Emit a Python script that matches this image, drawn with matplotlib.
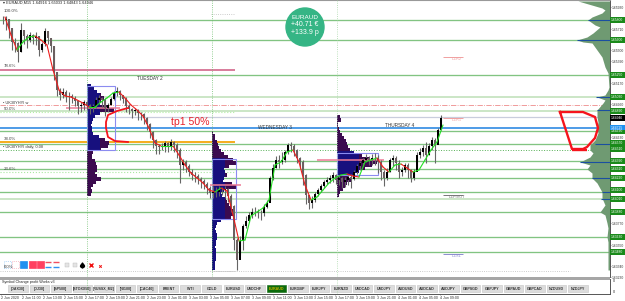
import matplotlib
matplotlib.use('Agg')
import matplotlib.pyplot as plt
from matplotlib.patches import Circle, Rectangle
import numpy as np

plt.rcParams['font.family'] = ['Liberation Sans', 'DejaVu Sans']

# prices are kept in points above 1.6000 (1 point = 0.0001)
PRICE_BASE = 1.6
BAR_STEP = 3  # chart units per 15 minute bar

closes = [580,581,572,558,557,548,570,564,560,565,
          562,564,550,556,569,562,554,528,510,505,
          508,504,504,502,499,494,495,498,495,492,
          494,500,502,500,492,495,501,507,509,505,
          501,494,491,489,490,487,486,482,476,468,
          460,454,453,454,457,454,458,455,450,435,
          438,434,428,425,424,421,419,416,412,407,
          408,408,410,410,411,404,394,360,340,359,
          374,379,385,388,388,387,387,393,397,422,
          432,440,438,440,448,455,454,450,442,438,
          425,405,397,400,406,410,414,418,420,422,
          425,420,422,418,420,423,421,428,434,437,
          440,442,440,442,442,438,428,422,428,440,
          442,437,428,430,435,430,422,428,445,448,
          452,445,454,460,455,470,482]
highs = [584,584,581,572,562,558,577,570,566,568,
         566,568,564,558,572,569,562,554,528,512,
         512,510,508,506,504,500,498,500,499,496,
         496,503,505,503,502,497,503,509,513,510,
         505,503,496,492,492,491,488,487,483,477,
         469,461,456,457,459,458,461,459,457,452,
         441,440,436,431,428,426,423,421,418,414,
         414,413,414,413,414,412,406,395,362,364,
         376,384,388,392,393,391,390,396,400,424,
         436,444,445,448,450,457,458,456,451,443,
         440,426,405,404,408,412,416,420,423,425,
         428,426,425,423,423,425,426,430,436,439,
         442,446,444,446,447,445,440,430,432,442,
         445,444,440,433,437,437,431,431,448,452,
         455,458,457,463,462,472,485]
lows = [576,570,562,550,548,538,548,556,552,558,
        556,555,544,548,554,556,548,520,504,500,
        502,498,490,497,494,486,488,490,490,486,
        488,492,496,493,484,488,495,500,504,500,
        497,488,486,482,485,480,480,476,470,462,
        452,446,446,450,448,448,450,448,442,417,
        430,428,424,420,418,416,412,411,406,402,
        402,403,404,405,402,398,388,350,330,345,
        350,372,378,382,384,382,380,384,392,400,
        420,432,432,436,438,446,448,444,437,432,
        415,396,391,392,398,404,408,412,416,417,
        418,416,415,412,413,415,412,420,426,430,
        434,438,435,435,435,427,420,414,420,428,
        434,430,422,424,428,422,418,420,430,442,
        444,437,445,450,437,462,470]

# moving average, one value every second bar
ma_values = [583,565,550,558,563,564,560,555,530,510,
             504,503,500,497,493,493,498,502,507,508,
             502,495,490,484,472,457,454,454,454,445,
             435,427,422,417,410,408,412,409,385,359,
             360,384,388,392,400,435,438,448,450,438,
             415,400,403,410,417,422,425,426,424,423,
             438,440,442,433,428,435,436,432,428,430,
             440,450,458,475]

green_levels = [580,560,525,469,456,439,431,422,408,388,363,348]
pale_levels = [503,489,401]

# daily volume profiles: widths from the top row down, one row every 3 points
profile_starts = [87, 212, 337]
profile_tops = [514, 467, 483]
profile_boxes = [(87,115,514,450), (212,236,441,381), (337,378,447,425)]
profile_pocs = [(66,120,492), (210,241,415), (317,384,440)]
profile_navy_limits = [13, 13, 22]
profile_1 = [4,7,10,14,17,14,13,22,27,13,8,6,5,4,5,5,6,12,18,22,21,14,6,5,5,8,9,10,10,8,10,14,9,6,4,5,4]
profile_2 = [1,3,3,5,6,7,9,12,16,21,24,17,12,13,15,12,11,20,25,12,9,10,14,15,17,20,22,23,19,9,5,4,3,
             4,5,5,4,4,3,4,4,4,4,3,3,3]
profile_3 = [3,4,1,1,2,3,5,7,9,10,11,13,17,25,32,40,35,28,22,16,12,15,10,8,6,3,2]

# market profile along the right edge
hist_levels = [599,592,590,587,583,580,575,573,567,563,560,558,557,550,543,533,527,513,510,505,503,
               500,497,490,483,478,472,467,460,455,450,447,443,438,435,431,427,422,417,408,402,395,388,
               385,377,372,363,358,347,330]
hist_widths = [32,8,5,8,18,22,15,10,17,23,33,27,18,13,8,5,2,1,2,5,13,5,7,13,13,12,13,12,15,20,20,
               17,20,30,20,23,18,18,13,8,8,5,10,5,3,2,3,2,2,2]
hist_peaks = [(580,22),(560,33),(503,14),(490,13),(456,15),(438,30),(422,18),(408,8),(401,9)]

tick_points = [593,582,571,560,550,539,528,517,506,496,485,474,463,452,442,431,420,409,398,388,
               377,366,355,344,334,323]
tag_levels = [580,560,525,503,489,469,457,451,439,431,422,410,401,388,363,348]
last_price = 1.64946
last_price_point = 482.2
blue_level = 472.5

tab_names = ['[DAX30]','[DJ30]','[SP500]','[STOXX50]','[RUSSX_M2]','[NI100]','[CAC40]','BRENT','WTI','GOLD',
             'EURUSD','USDCHF','EURAUD','EURGBP','EURJPY','EURNZD','USDCAD','USDJPY','AUDUSD','AUDCAD',
             'AUDJPY','GBPSGD','GBPJPY','GBPAUD','GBPCAD','NZDUSD','NZDJPY']
time_labels = ['2 Jun 2020','2 Jun 11:00','2 Jun 13:00','2 Jun 15:00','2 Jun 17:00','2 Jun 19:00','2 Jun 21:00',
               '2 Jun 23:00','3 Jun 01:00','3 Jun 03:00','3 Jun 05:00','3 Jun 07:00','3 Jun 09:00','3 Jun 11:00',
               '3 Jun 13:00','3 Jun 15:00','3 Jun 17:00','3 Jun 19:00','3 Jun 21:00','4 Jun 01:00','4 Jun 05:00',
               '4 Jun 09:00']

fib_labels = ['100.0%','78.6%','50.0%','38.0%','23.6%','0.0%']
fib_points = [589,534,491,461,431,333]

# hand drawn marks on the chart
swoosh_x = [128,117,108,106,106,108,115,128]
swoosh_y = [492,489,485,478,472,463,459,458]
shape_x = [560,583,595,598,595,587,583,572,560]
shape_y = [488,488,483,472,462,453,451,451,488]

W, H = 625, 301
MAIN_RIGHT, MAIN_BOTTOM = 610, 277
PROFILE_NAVY = '#17107e'
PROFILE_PURPLE = '#3b0b4f'

fig = plt.figure(figsize=(W / 100, H / 100), dpi=100, facecolor='white')
ax = fig.add_axes([0, 1 - MAIN_BOTTOM / H, MAIN_RIGHT / W, MAIN_BOTTOM / H])
ax.set_xlim(0, MAIN_RIGHT)
ax.set_ylim(600 - MAIN_BOTTOM, 600)
for s in ['left', 'bottom']:
    ax.spines[s].set_visible(False)
ax.spines['top'].set_color('#999999')
ax.spines['right'].set_color('#555555')
ax.spines['right'].set_linewidth(0.7)
ax.set_xticks([])

# axis ticks that a price tag would cover are left out
covered = tag_levels + [last_price_point, blue_level]
shown_ticks = [p for p in tick_points if min(abs(p - c) for c in covered) > 5]
ax.yaxis.tick_right()
ax.set_yticks(shown_ticks)
ax.set_yticklabels([f'{PRICE_BASE + p / 10000:.5f}' for p in shown_ticks], fontsize=2.4, color='#333333')
ax.tick_params(axis='y', length=1, width=0.4, pad=0.3, color='#555555')

# levels
for lv in green_levels:
    ax.axhline(lv, color='#82c482', lw=0.95, zorder=1)
for lv in pale_levels:
    ax.axhline(lv, color='#cbe6c6', lw=1.4, zorder=1)
ax.axhline(483, color='#c9cddd', lw=0.9, zorder=1)
ax.axhline(blue_level, color='#1c80e0', lw=1.1, zorder=1)
ax.axhline(495, color='#ee8a8a', lw=0.6, ls='-.', zorder=1)
ax.axhline(450, color='#55b055', lw=0.7, ls=':', zorder=1)
ax.hlines(530.5, 0, 235, color='#d2668a', lw=1.2, zorder=1)
ax.hlines(458, 0, 235, color='#f5a60c', lw=1.3, zorder=1)
ax.hlines(488, 0, 235, color='#b4efa4', lw=0.8, ls=':', zorder=1)
ax.hlines(428, 0, 236, color='#a8e8a0', lw=0.8, ls=':', zorder=1)
ax.hlines(586, 211, 235, color='#bbbbbb', lw=0.6, ls=':', zorder=1)
ax.hlines(329.5, 0, 570, color='#bbbbbb', lw=0.6, ls=':', zorder=1)

# volume profiles
for n, (start, top, box, poc, limit, widths) in enumerate(zip(profile_starts, profile_tops, profile_boxes, profile_pocs,
                                                              profile_navy_limits, [profile_1, profile_2, profile_3])):
    rows = top - 3 * np.arange(len(widths))
    widths = np.array(widths)
    ax.barh(rows, widths, left=start, height=3.05, color=PROFILE_PURPLE, zorder=2)
    inside = (rows <= box[2]) & (rows >= box[3])
    navy = np.where(inside, np.minimum(widths, limit), 0)
    if n == 1:
        # the tail of the middle profile stays blue
        navy = np.where(rows < box[3], widths, navy)
    ax.barh(rows, navy, left=start, height=3.05, color=PROFILE_NAVY, zorder=2)
    ax.add_patch(Rectangle((box[0], box[3]), box[1] - box[0], box[2] - box[3], fill=False,
                           ec='#8c8cf0', lw=0.8, zorder=3))
    ax.hlines(poc[2], poc[0], poc[1], color='#ee7a96', lw=1.1, zorder=3)
ax.hlines(329.5, 212, 236, color='#999999', lw=0.5, ls=':', zorder=3)

for x, col in [(87, '#6fbf6f'), (212, '#6fbf6f'), (337, '#a8d8a8')]:
    ax.axvline(x, color=col, lw=0.6, ls=':', zorder=3)

# candles
bar_x = BAR_STEP * (np.arange(len(closes)) + 1)
close_arr = np.array(closes)
open_arr = np.r_[closes[0], close_arr[:-1]]
up = close_arr >= open_arr
ax.vlines(bar_x, lows, highs, color='#666666', lw=0.8, zorder=4)
ax.bar(bar_x[up], (close_arr - open_arr)[up] + 0.5, bottom=open_arr[up], width=2.0, color='black', zorder=5)
ax.bar(bar_x[~up], (open_arr - close_arr)[~up] + 0.5, bottom=close_arr[~up], width=2.0, color='#6b6060', zorder=5)

# moving average, green on the way up and red on the way down
ma_x = 5 + 2 * BAR_STEP * np.arange(len(ma_values))
for i in range(len(ma_values) - 1):
    col = '#22e022' if ma_values[i + 1] >= ma_values[i] else '#ee1c1c'
    ax.plot(ma_x[i:i + 2], ma_values[i:i + 2], color=col, lw=0.8, zorder=6, solid_capstyle='round')

ax.plot(swoosh_x, swoosh_y, color='#f5141c', lw=1.3, zorder=7)
ax.plot(shape_x, shape_y, color='#f5141c', lw=1.7, zorder=7, solid_joinstyle='round')
ax.hlines(450.5, 572, 587, color='#f5141c', lw=1.7, zorder=7)

# market profile on the right edge
hist_x = MAIN_RIGHT - np.array(hist_widths)
ax.fill_betweenx(hist_levels, hist_x, MAIN_RIGHT, color='#6f9a72', lw=0, zorder=2)
for lv, w in hist_peaks:
    ax.hlines(lv, MAIN_RIGHT - w, MAIN_RIGHT, color='#1a4fa0', lw=0.8, zorder=3)

# pivots
for lv, label, col in [(543, 'D1R2', '#f0a0a0'), (482, 'D1R1', '#f0a0a0'), (405, 'D1PIVOT', '#777777'), (346, 'D1S1', '#8c8cd0')]:
    ax.hlines(lv, 443, 463, color=col, lw=0.7, zorder=3)
    ax.text(452 if label != 'D1PIVOT' else 449, lv - 2, label, fontsize=2.8, color=col, va='center', zorder=3)

# day names and fib labels
for x, y, label in [(150, 522, 'TUESDAY 2'), (275, 473, 'WEDNESDAY 3'), (400, 474.5, 'THURSDAY 4')]:
    ax.text(x, y, label, fontsize=3.4, color='#333333', ha='center', va='center', zorder=8)
for label, p in zip(fib_labels, fib_points):
    ax.text(4, p, label, fontsize=3.2, color='#444444', va='center', zorder=8)
ax.text(3, 597, '\u25be EURAUD,M15 1.64916 1.65033 1.64843 1.64946', fontsize=2.8, color='#222222', va='center', zorder=8)
ax.text(3, 497, '\u2022 UK30YHYI w', fontsize=2.8, color='#333333', va='center', zorder=8)
ax.text(3, 453, '\u2022 UK30YHYI daily, 0.08', fontsize=2.8, color='#333333', va='center', zorder=8)

ax.text(171, 478, 'tp1 50%', fontsize=7.6, color='#e8202a', va='center', zorder=8)

# profit badge
ax.add_patch(Circle((305, 573), 19, color='#35b585', zorder=9))
ax.text(305, 583, 'EURAUD', fontsize=4.6, color='white', ha='center', va='center', zorder=10)
ax.text(305, 575.5, '+40.71 \u20ac', fontsize=5.0, color='white', ha='center', va='center', zorder=10)
ax.text(305, 567.5, '+133.9 p', fontsize=5.0, color='white', ha='center', va='center', zorder=10)

# toolbar at the lower left
for x0, fc, ec, ls in [(4, 'white', '#7ab8f0', ':'), (12, 'white', '#f08ca0', ':'),
                       (20, '#2090f0', '#2090f0', '-'), (29, '#ff4060', '#ff4060', '-'), (37, '#ff4060', '#ff4060', '-')]:
    ax.add_patch(Rectangle((x0, 332), 6.5, 7, fc=fc, ec=ec, lw=0.5, ls=ls, zorder=8))
for x0 in [45, 53]:
    ax.hlines(338, x0, x0 + 6, color='#f05060', lw=1.0, zorder=8)
    ax.hlines(333.5, x0, x0 + 6, color='#3090f0', lw=1.0, zorder=8)
ax.text(4, 333, '0.0%', fontsize=3.0, color='#333333', va='center', zorder=9)
for x0 in [65, 73]:
    ax.add_patch(Rectangle((x0, 333), 4, 4, fc='#e4e4e4', ec='#bbbbbb', lw=0.3, zorder=8))
ax.plot([82], [335], marker='$\u2660$', ms=3.5, color='black', zorder=8)
ax.plot([90.5], [335], marker='x', ms=3.5, mew=1.0, color='#f01010', zorder=8)
ax.plot([100], [334], marker='x', ms=1.8, mew=0.7, color='#f01010', zorder=8)

# price tags over the axis
for lv in tag_levels:
    ax.add_patch(Rectangle((MAIN_RIGHT, lv - 2.7), 15, 5.4, fc='#1a8a1a', ec='none', clip_on=False, zorder=10))
    ax.text(MAIN_RIGHT + 1, lv, f'{PRICE_BASE + lv / 10000:.5f}', fontsize=2.4, color='white', va='center', clip_on=False, zorder=11)
ax.add_patch(Rectangle((MAIN_RIGHT, last_price_point - 2.7), 15, 5.4, fc='black', ec='none', clip_on=False, zorder=10))
ax.text(MAIN_RIGHT + 1, last_price_point, f'{last_price:.5f}', fontsize=2.4, color='white', va='center', clip_on=False, zorder=11)
ax.add_patch(Rectangle((MAIN_RIGHT, blue_level - 2.7), 15, 5.4, fc='#2090f0', ec='none', clip_on=False, zorder=10))
ax.text(MAIN_RIGHT + 1, blue_level, f'{PRICE_BASE + blue_level / 10000:.5f}', fontsize=2.4, color='white', va='center', clip_on=False, zorder=11)

# lower panel with the symbol buttons
sub = fig.add_axes([0, 1 - 294 / H, MAIN_RIGHT / W, 15 / H])
sub.set_xlim(0, MAIN_RIGHT)
sub.set_ylim(294, 279)
for s in ['top', 'left']:
    sub.spines[s].set_visible(False)
sub.spines['bottom'].set_color('#555555')
sub.spines['bottom'].set_linewidth(0.7)
sub.spines['right'].set_color('#555555')
sub.spines['right'].set_linewidth(0.7)
sub.axvline(87, color='#6fbf6f', lw=0.6, ls=':')
sub.axvline(337, color='#a8d8a8', lw=0.6, ls=':')
sub.text(2, 282, 'Symbol Change profit Works v3', fontsize=2.7, color='#222222', va='center')
for i, name in enumerate(tab_names):
    left = 8 + 21.55 * i
    active = name == 'EURAUD'
    sub.add_patch(Rectangle((left, 285), 19.5, 7, fc='#0d6b0d' if active else '#dcdcdc',
                            ec='#0d6b0d' if active else '#c4c4c4', lw=0.4))
    sub.text(left + 9.75, 288.6, name, fontsize=2.6, fontweight='bold',
             color='#c8b400' if active else '#333333', ha='center', va='center')
tick_x = 1 + 20.9 * np.arange(len(time_labels))
sub.set_xticks(tick_x)
sub.set_xticklabels(time_labels, fontsize=2.6, color='#333333', ha='left')
sub.tick_params(axis='x', length=1, width=0.4, pad=0.6, color='#555555')
sub.set_yticks([])
fig.text(612.5 / W, 1 - 281 / H, '0', fontsize=2.8, color='#333333', va='center')
fig.text(612.5 / W, 1 - 292 / H, '0', fontsize=2.8, color='#333333', va='center')

# thick grey bar between the main window and the lower panel
fig.add_artist(Rectangle((0, 1 - 279.5 / H), MAIN_RIGHT / W, 2.5 / H, transform=fig.transFigure, fc='#a6a6a6', ec='none'))

plt.savefig('out.png', dpi=100)
